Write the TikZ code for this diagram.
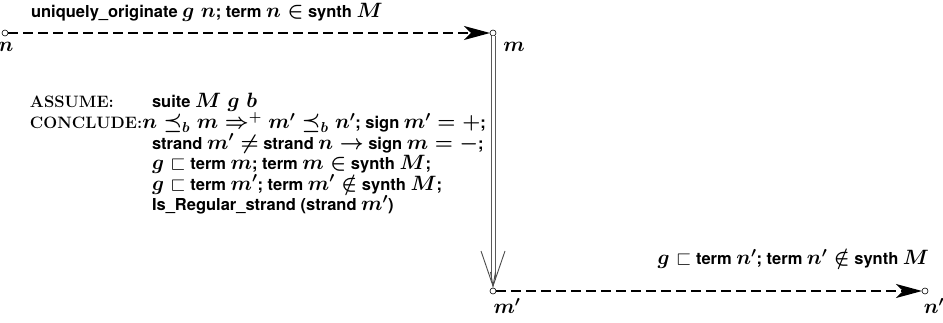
\documentclass[tikz,border=0pt]{standalone}
\usepackage{amssymb}
\usepackage{fontspec}
\setsansfont{TeX Gyre Heros}
\usetikzlibrary{arrows.meta}
\newcommand{\serifbig}[1]{{\fontsize{16.5}{20}\selectfont\rmfamily\bfseries #1}}
\newcommand{\mth}[1]{{\fontsize{19.5}{20}\selectfont\boldmath$#1$}}
\begin{document}
\begin{tikzpicture}[x=1pt,y=-1pt,
  every node/.style={inner sep=0pt,outer sep=0pt},
  txt/.style={font=\fontsize{16.5}{20}\selectfont\sffamily\bfseries},
  rmtxt/.style={font=\fontsize{16.5}{20}\selectfont\rmfamily\bfseries},
  pt/.style={circle,draw,minimum size=6pt,inner sep=0pt,line width=0.6pt},
  lbl/.style={font=\fontsize{19.5}{20}\selectfont\boldmath},
  dasharrow/.style={line width=1.1pt,dash pattern=on 10pt off 5pt,
     -{Stealth[length=26pt,width=14pt,inset=7pt]}},
  dblline/.style={double=white,double distance=3pt,line width=1pt,draw=gray!70!black},
  vhead/.style={line width=0.9pt,draw=gray!60!black}]
\useasboundingbox (0,0) rectangle (943,323);
% points
\node[pt] (n) at (5,33) {};
\node[pt] (m) at (493,33) {};
\node[pt] (mp) at (493,291) {};
\node[pt] (np) at (925,291) {};
\coordinate (tip) at (493,286);
\coordinate (vl) at (481,251);
\coordinate (vr) at (505,251);
% point labels
\node[lbl] (ln) at (6,47) {$n$};
\node[lbl] (lm) at (514,47) {$m$};
\node[lbl] (lmp) at (507,306) {$m'$};
\node[lbl] (lnp) at (934,306) {$n'$};
% connectors
\draw[dasharrow] (n) -- (m);
\draw[dasharrow] (mp) -- (np);
\draw[dblline,shorten >=6pt] (m) -- (tip);
\draw[vhead] (vl) -- (tip) -- (vr);
\draw[vhead] (490.5,272) -- (tip) -- (495.5,272);
% edge labels
\node[txt,anchor=base west] (top) at (31,18) {uniquely\_originate \mth{g\;n}; term \mth{n \in} synth \mth{M}};
\node[txt,anchor=base east] (bot) at (929,265) {\mth{g \sqsubset} term \mth{n'}; term \mth{n' \notin} synth \mth{M}};
% assume / conclude block
\node[rmtxt,anchor=base west] (as) at (30,108) {ASSUME:};
\node[txt,anchor=base west] (as2) at (152,108) {suite \mth{M\;g\;b}};
\node[txt,anchor=base west] (c1) at (30,129) {\serifbig{CONCLUDE:}\mth{n \preceq_b m \Rightarrow^{+} m' \preceq_b n'}; sign \mth{m' = +};};
\node[txt,anchor=base west] (c2) at (152,149.5) {strand \mth{m' \neq} strand \mth{n \rightarrow} sign \mth{m = -};};
\node[txt,anchor=base west] (c3) at (152,170) {\mth{g \sqsubset} term \mth{m}; term \mth{m \in} synth \mth{M};};
\node[txt,anchor=base west] (c4) at (152,190.5) {\mth{g \sqsubset} term \mth{m'}; term \mth{m' \notin} synth \mth{M};};
\node[txt,anchor=base west] (c5) at (152,211) {Is\_Regular\_strand (strand \mth{m'})};
\end{tikzpicture}
\end{document}
